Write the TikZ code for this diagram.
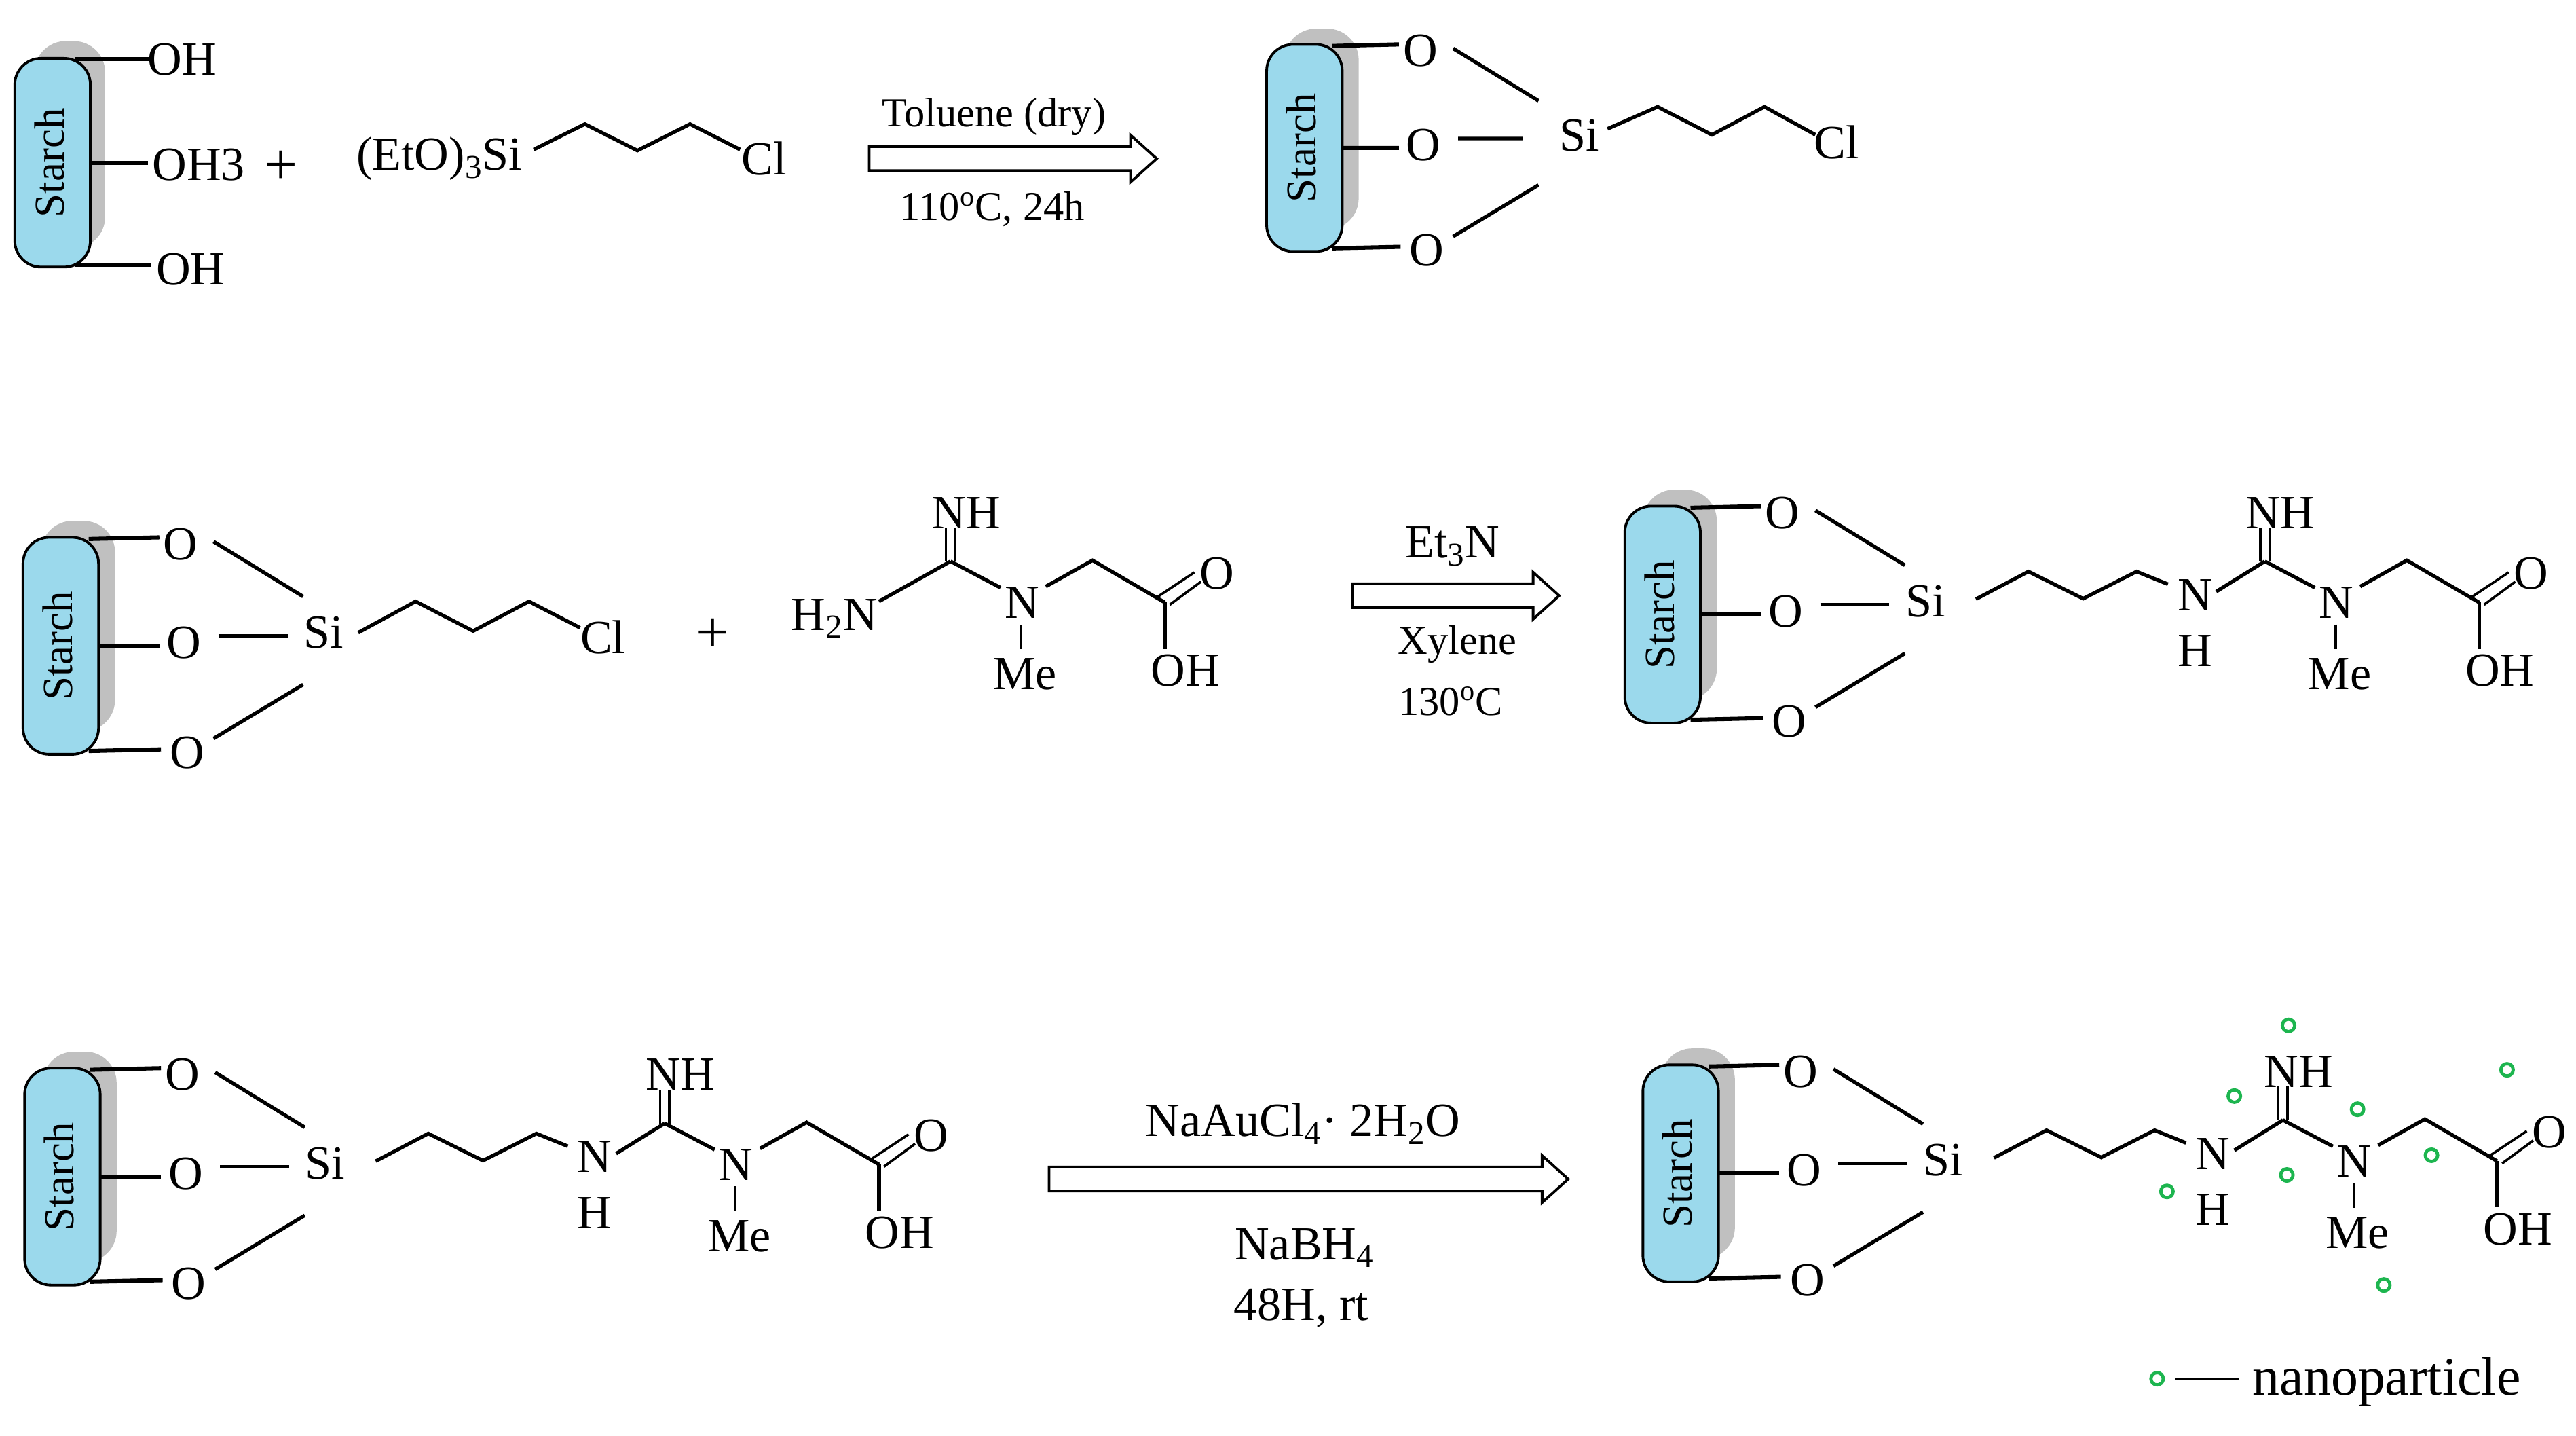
\documentclass[tikz,border=0pt]{standalone}
\usepackage{fontspec}
\setmainfont{Liberation Serif}
\usetikzlibrary{shapes.arrows}
\definecolor{starchblue}{HTML}{9BD9EC}
\definecolor{shadowgray}{HTML}{C0C0C0}
\definecolor{npgreen}{HTML}{1DB54F}
\tikzset{
  chem/.style={font=\fontsize{29}{29}\selectfont,inner sep=0pt,outer sep=0pt,text height=19pt,text depth=0pt,text=black},
  plus sign/.style={chem,font=\fontsize{36}{36}\selectfont},
  lab/.style={font=\fontsize{25}{25}\selectfont,inner sep=0pt,outer sep=0pt,text height=16.5pt,text depth=0pt,text=black},
  reag/.style={font=\fontsize{29}{29}\selectfont,inner sep=0pt,outer sep=0pt,text height=19pt,text depth=0pt,text=black},
  bond/.style={draw=black,line width=2.2pt,line join=miter},
  stub/.style={draw=black,line width=2.5pt},
  thin bond/.style={draw=black,line width=1.5pt},
  starch/.style={draw=black,line width=1.6pt,fill=starchblue,rounded corners=16pt,rotate=90,minimum height=46pt,inner sep=0pt,text height=17pt,text depth=3pt,font=\fontsize{26}{26}\selectfont},
  shadow box/.style={fill=shadowgray,rounded corners=19pt},
  harrow/.style={single arrow,draw=black,line width=1.6pt,fill=white,inner sep=0pt,single arrow head extend=7pt,single arrow tip angle=84},
  np/.style={circle,draw=npgreen,line width=2pt,fill=white,minimum size=7.5pt,inner sep=0pt}
}
\newcommand{\shaft}{\rule{0pt}{13pt}}
% silyl-starch unit; origin = top left of the blue box
% #6 = x offset of the O atoms, #7 = x offset of Si, #8 = extra x offset of the bond ends at Si
\newcommand{\silylunit}[8]{%
\begin{scope}[shift={(#2,#3)},yscale=#4]
  \fill[shadow box] (11,-10) rectangle (56,118);
  \node[starch,minimum width=#5pt] (#1s) at (23,66) {Starch};
  \node[chem] (#1O1) at (96+#6,4) {O};
  \node[chem] (#1O2) at (98+#6,64) {O};
  \node[chem] (#1O3) at (100+#6,131) {O};
  \node[chem] (#1Si) at (183+#7,58) {Si};
  \draw[stub] ([shift={(17,-65)}]#1s.center) -- ([shift={(-13,-4)}]#1O1.center);
  \draw[stub] ([shift={(23,0)}]#1s.center) -- ([shift={(-15,2)}]#1O2.center);
  \draw[stub] ([shift={(17,64)}]#1s.center) -- ([shift={(-16,-2)}]#1O3.center);
  \draw[bond] ([shift={(20,-1.4)}]#1O1.center) -- ([shift={(-12.5-#7+#8,-22)}]#1Si.center);
  \draw[bond] ([shift={(21,-4)}]#1O2.center) -- ([shift={(-22-#7+#8,2)}]#1Si.center);
  \draw[bond] ([shift={(16,-8.6)}]#1O3.center) -- ([shift={(-12.5-#7+#8,31.6)}]#1Si.center);
\end{scope}}
% guanidino acid; origin = guanidine carbon
\newcommand{\guan}[3]{%
\begin{scope}[shift={(#2,#3)}]
  \coordinate (#1C) at (0,0);
  \node[chem] (#1NH) at (9.5,-29.6) {NH};
  \node[chem] (#1N) at (43.4,25) {N};
  \node[chem] (#1Me) at (45.4,68.4) {Me};
  \coordinate (#1CH) at (86.4,-0.6);
  \coordinate (#1CO) at (130.4,25);
  \node[chem] (#1Oc) at (162,7.5) {O};
  \node[chem] (#1OH) at (143,66.5) {OH};
  \draw[thin bond] ([xshift=-2.8pt]#1C) -- ([xshift=-12.3pt,yshift=-9pt]#1NH.center);
  \draw[thin bond] ([xshift=2.8pt]#1C) -- ([xshift=-6.7pt,yshift=-9pt]#1NH.center);
  \draw[bond] (#1C) -- ([shift={(-13,-9)}]#1N.center);
  \draw[bond] ([shift={(14.6,-9.7)}]#1N.center) -- (#1CH) -- (#1CO);
  \draw[thin bond] ([shift={(-5,-3)}]#1CO) -- ([shift={(-13.6,-0.8)}]#1Oc.center);
  \draw[thin bond] ([shift={(3,1.4)}]#1CO) -- ([shift={(-9.6,4.9)}]#1Oc.center);
  \draw[bond] (#1CO) -- ([shift={(-12.6,-13.3)}]#1OH.center);
  \draw[thin bond] ([shift={(-0.4,13.4)}]#1N.center) -- ([shift={(-2.4,-15)}]#1Me.center);
\end{scope}}
% propyl-N linker; origin = top left of the blue box
\newcommand{\linker}[3]{%
\begin{scope}[shift={(#2,#3)}]
  \node[chem] (#1Nb) at (347,54) {N};
  \node[chem] (#1H) at (347,88) {H};
  \coordinate (#1c1) at (245.7,39.8);
  \coordinate (#1c2) at (279,56.3);
  \coordinate (#1c3) at (311.5,39.8);
  \draw[bond] ([shift={(30.7,-1.4)}]#1Si.center) -- (#1c1) -- (#1c2) -- (#1c3) -- ([shift={(-16.4,-6.5)}]#1Nb.center);
  \draw[bond] ([shift={(13,-2)}]#1Nb.center) -- (#1gC);
\end{scope}}
\begin{document}
\begin{tikzpicture}[x=1pt,y=-1pt]
\useasboundingbox (0,0) rectangle (1568,873.45);
% ---------- row 1, left
\fill[shadow box] (21,25) rectangle (64,151);
\node[starch,minimum width=127pt] (s0) at (32,99) {Starch};
\node[chem] (oh1) at (111,36) {OH};
\node[chem] (oh2) at (121,100) {OH3};
\node[chem] (oh3) at (116,164) {OH};
\draw[stub] ([shift={(14,-63)}]s0.center) -- ([shift={(-20,0)}]oh1.center);
\draw[stub] ([shift={(23,0)}]s0.center) -- ([shift={(-31,-1)}]oh2.center);
\draw[stub] ([shift={(14,62)}]s0.center) -- ([shift={(-24,-3)}]oh3.center);
\node[plus sign] (plus1) at (171,102.5) {+};
\node[chem,anchor=west] (eto) at (217,94) {(EtO)\textsubscript{3}Si};
\coordinate (e1) at (356,75.5);
\coordinate (e2) at (388,91.6);
\coordinate (e3) at (420,75.5);
\node[chem] (ecl) at (465,97) {Cl};
\draw[bond] ([shift={(7,-3)}]eto.east) -- (e1) -- (e2) -- (e3) -- ([shift={(-14.5,-6)}]ecl.center);
\node[harrow,minimum height=175pt] (ar1) at (612.5,96.5) {\shaft};
\node[lab] (t1) at (605,69) {Toluene (dry)};
\node[lab] (t2) at (604,126) {110\textsuperscript{o}C, 24h};
% ---------- row 1, right
\silylunit{a}{771}{27}{0.955}{126}{-2.5}{7.5}{-5}
\coordinate (a1) at (1009,65);
\coordinate (a2) at (1042,82);
\coordinate (a3) at (1074,65);
\node[chem] (acl) at (1118,87) {Cl};
\draw[bond] ([shift={(17,-4)}]aSi.center) -- (a1) -- (a2) -- (a3) -- ([shift={(-13,-5)}]acl.center);
% ---------- row 2, left
\silylunit{b}{14}{327}{1}{132}{0}{0}{0}
\coordinate (b1) at (253,366);
\coordinate (b2) at (288,384);
\coordinate (b3) at (322,366);
\node[chem] (bcl) at (367,388) {Cl};
\draw[bond] ([shift={(21,0)}]bSi.center) -- (b1) -- (b2) -- (b3) -- ([shift={(-14,-6)}]bcl.center);
\node[plus sign] (plus2) at (434,387.5) {+};
\guan{r}{578.6}{341.6}
\node[chem] (rh2n) at (508,374) {H\textsubscript{2}N};
\draw[bond] ([shift={(27,-8)}]rh2n.center) -- (rC);
\node[harrow,minimum height=126pt] (ar2) at (882,362.5) {\shaft};
\node[reag] (t3) at (884,330) {Et\textsubscript{3}N};
\node[lab] (t4) at (887,390) {Xylene};
\node[lab] (t5) at (883,427) {130\textsuperscript{o}C};
% ---------- row 2, right
\silylunit{c}{989}{308}{1}{132}{0}{0}{0}
\guan{cg}{1378.6}{341.6}
\linker{c}{989}{308}
% ---------- row 3, left
\silylunit{d}{15}{650}{1}{132}{0}{0}{0}
\guan{dg}{404.6}{683.6}
\linker{d}{15}{650}
\node[harrow,minimum height=316pt] (ar3) at (792.5,717.5) {\shaft};
\node[reag] (t6) at (793,682) {NaAuCl\textsubscript{4}· 2H\textsubscript{2}O};
\node[reag] (t7) at (794,757) {NaBH\textsubscript{4}};
\node[reag] (t8) at (792,794) {48H, rt};
% ---------- row 3, right
\silylunit{e}{1000}{648}{1}{132}{0}{0}{0}
\guan{eg}{1389.6}{681.6}
\linker{e}{1000}{648}
\foreach \n/\x/\y in {1/1393/624,2/1360/667,3/1435/675,4/1526/651,5/1319/725,6/1392/715,7/1480/703,8/1451/782}
  \node[np] (np\n) at (\x,\y) {};
% ---------- legend
\node[np] (npk) at (1313,839) {};
\node[font=\fontsize{33}{33}\selectfont,inner sep=0pt,anchor=base west] (nano) at (1371,849) {nanoparticle};
\draw[thin bond] ([xshift=11pt]npk.center) -- ([xshift=-8pt,yshift=10pt]nano.base west);
\end{tikzpicture}
\end{document}
